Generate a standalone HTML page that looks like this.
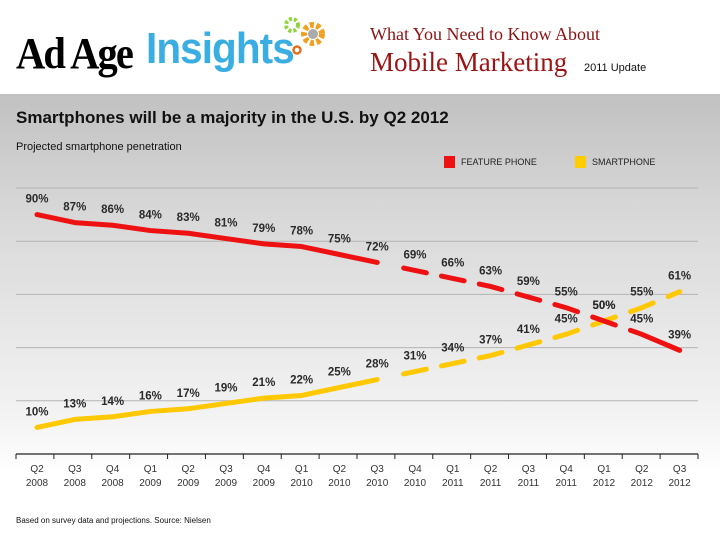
<!DOCTYPE html>
<html><head><meta charset="utf-8"><style>
body{margin:0;width:720px;height:540px;overflow:hidden;background:#fff;font-family:"Liberation Sans",sans-serif;}
#wrap{position:relative;width:720px;height:540px;}
.abs{position:absolute;white-space:nowrap;}
</style></head><body>
<div id="wrap">
<div class="abs" style="left:0;top:94px;width:720px;height:446px;background:linear-gradient(#c1c1c1 0px,#d8d8d8 120px,#f4f4f4 330px,#fff 380px);"></div>
<div class="abs" style="left:16px;top:28px;font-family:'Liberation Serif',serif;font-weight:bold;font-size:44px;letter-spacing:-2px;transform:scaleX(0.92);transform-origin:left;color:#000;">Ad Age</div>
<div class="abs" style="left:146px;top:24px;font-weight:bold;font-size:44px;color:#3aaee2;letter-spacing:-1px;transform:scaleX(0.92);transform-origin:left;">Insights</div>
<svg class="abs" style="left:280px;top:14px" width="50" height="48">
<circle cx="12" cy="11" r="6" fill="none" stroke="#8fd43a" stroke-width="4" stroke-dasharray="3 2"/>
<circle cx="33" cy="20" r="9" fill="none" stroke="#f0a020" stroke-width="6" stroke-dasharray="4 2.5"/>
<circle cx="33" cy="20" r="5" fill="#aaa"/>
<circle cx="17" cy="36" r="3.5" fill="none" stroke="#e07020" stroke-width="2.5"/>
</svg>
<div class="abs" style="left:370px;top:24px;font-family:'Liberation Serif',serif;font-size:18px;color:#8b1414;">What You Need to Know About</div>
<div class="abs" style="left:370px;top:47px;font-family:'Liberation Serif',serif;font-size:27px;color:#9a1414;">Mobile Marketing</div>
<div class="abs" style="left:584px;top:62px;font-size:11px;color:#111;">2011 Update</div>
<div class="abs" style="left:16px;top:108px;font-size:17px;font-weight:bold;color:#111;">Smartphones will be a majority in the U.S. by Q2 2012</div>
<div class="abs" style="left:16px;top:141px;font-size:11px;color:#111;">Projected smartphone penetration</div>
<div class="abs" style="left:444px;top:156px;width:11px;height:12px;background:#ee1111;"></div>
<div class="abs" style="left:461px;top:157px;font-size:9px;color:#222;">FEATURE PHONE</div>
<div class="abs" style="left:575px;top:156px;width:11px;height:12px;background:#ffcc00;"></div>
<div class="abs" style="left:592px;top:157px;font-size:9px;color:#222;">SMARTPHONE</div>
<svg id="chart" class="abs" style="left:0;top:0" width="720" height="540"></svg>
<div class="abs" style="left:16px;top:516px;font-size:8px;color:#111;">Based on survey data and projections. Source: Nielsen</div>
</div>
<script>
const quarters=["Q2","Q3","Q4","Q1","Q2","Q3","Q4","Q1","Q2","Q3","Q4","Q1","Q2","Q3","Q4","Q1","Q2","Q3"];
const years=["2008","2008","2008","2009","2009","2009","2009","2010","2010","2010","2010","2011","2011","2011","2011","2012","2012","2012"];
const featurePhone=[90,87,86,84,83,81,79,78,75,72,69,66,63,59,55,50,45,39];
const smartphone=[10,13,14,16,17,19,21,22,25,28,31,34,37,41,45,50,55,61];
const gridTicks=[20,40,60,80,100];
const solidCount=10;
const NS="http://www.w3.org/2000/svg";
const svg=document.getElementById('chart');
const xS=i=>37+i*37.8;
const yS=v=>454-2.66*v;
function mk(t,a){const e=document.createElementNS(NS,t);for(const k in a)e.setAttribute(k,a[k]);svg.appendChild(e);return e;}
gridTicks.forEach(v=>{const l=mk('line',{x1:16,x2:698,y1:yS(v),y2:yS(v),stroke:'#b4b4b4','stroke-width':1});

});
const ax=mk('line',{x1:16,x2:698,y1:454,y2:454,stroke:'#222','stroke-width':1.2});


for(let i=0;i<=quarters.length;i++){const x=16+i*(682/quarters.length);const t=mk('line',{x1:x,x2:x,y1:454,y2:459,stroke:'#222'});

}
quarters.forEach((q,i)=>{const t=mk('text',{x:xS(i),y:472,'text-anchor':'middle','font-size':10,fill:'#333','font-family':'Liberation Sans'});t.textContent=q;


const y=mk('text',{x:xS(i),y:486,'text-anchor':'middle','font-size':10,fill:'#333','font-family':'Liberation Sans'});y.textContent=years[i];

});
function series(vals,color,name,fullLast){
 const pts=vals.map((v,i)=>[xS(i),yS(v)]);
 const p=mk('polyline',{points:pts.slice(0,solidCount).map(a=>a.join(',')).join(' '),fill:'none',stroke:color,'stroke-width':5,'stroke-linecap':'round','stroke-linejoin':'round'});
 
 
 for(let i=solidCount;i<pts.length;i++){
  const a=pts[i-1],b=pts[i],c=pts[i+1];
  const s=[b[0]-0.3*(b[0]-a[0]),b[1]-0.3*(b[1]-a[1])];
  let e=b;
  if(c){const f=(fullLast&&i===pts.length-2)?1:0.3;e=[b[0]+f*(c[0]-b[0]),b[1]+f*(c[1]-b[1])];}
  const d=mk('polyline',{points:[s,b,e].map(q=>q.join(',')).join(' '),fill:'none',stroke:color,'stroke-width':5,'stroke-linecap':'round'});
  
  
 }
 vals.forEach((v,i)=>{const t=mk('text',{x:pts[i][0],y:pts[i][1]-12,'text-anchor':'middle','font-size':11.5,'font-weight':'bold',fill:'#2a2a2a','font-family':'Liberation Sans'});t.textContent=v+'%';
 
 });
}
series(smartphone,'#ffc800','smartphone',false);
series(featurePhone,'#ee1111','feature-phone',true);
</script>
</body></html>
